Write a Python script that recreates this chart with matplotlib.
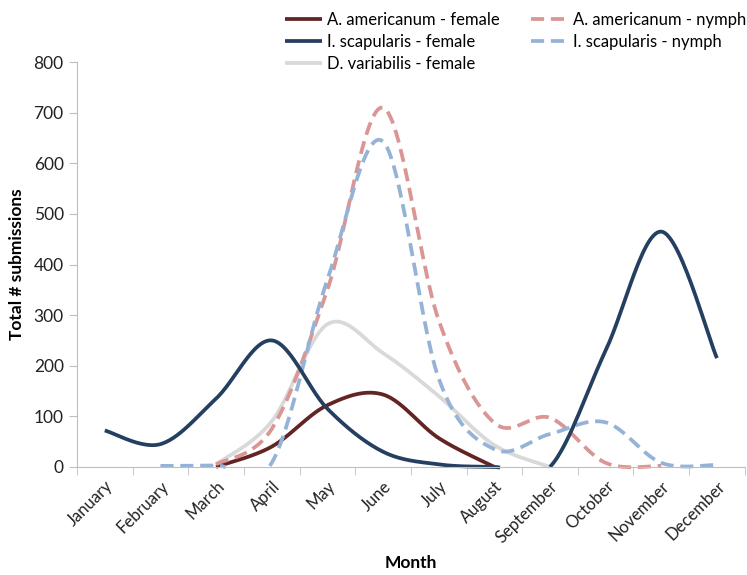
import matplotlib
matplotlib.use("Agg")
import matplotlib.pyplot as plt
import numpy as np

months = ["January", "February", "March", "April", "May", "June", "July",
          "August", "September", "October", "November", "December"]

# monthly totals (None = no point)
am_female = [None, None, 0, 40, 122, 143, 57, 0, None, None, None, None]
am_nymph = [None, None, 5, 75, 350, 710, 290, 87, 97, 8, 2, None]
is_female = [72, 45, 135, 250, 115, 30, 5, 0, 0, 230, 465, 215]
is_nymph = [None, 2, 3, 8, 370, 643, 175, 35, 65, 88, 8, 4]
dv_female = [None, None, 5, 90, 282, 225, 140, 43, 0, None, None, None]


def smooth(vals, n=30):
    # excel-style smoothed line (bezier through points), split on gaps
    runs, cur = [], []
    for i, v in enumerate(vals):
        if v is None:
            if cur:
                runs.append(cur)
            cur = []
        else:
            cur.append((i + 1, v))
    if cur:
        runs.append(cur)
    xs, ys = [], []
    for r in runs:
        p = np.array(r, dtype=float)
        for k in range(len(p) - 1):
            p0 = p[k - 1] if k > 0 else p[k]
            p1, p2 = p[k], p[k + 1]
            p3 = p[k + 2] if k + 2 < len(p) else p[k + 1]
            c1 = p1 + (p2 - p0) / 6
            c2 = p2 - (p3 - p1) / 6
            t = np.linspace(0, 1, n)[:, None]
            b = ((1 - t) ** 3) * p1 + 3 * ((1 - t) ** 2) * t * c1 + 3 * (1 - t) * t ** 2 * c2 + t ** 3 * p2
            xs.extend(b[:, 0]); ys.extend(b[:, 1])
        xs.append(np.nan); ys.append(np.nan)
    ys = np.array(ys)
    ys[ys < -1.5] = np.nan
    return np.array(xs), ys


plt.rcParams['font.family'] = ['Lato', 'DejaVu Sans']

fig = plt.figure(figsize=(7.47, 5.75), dpi=100)
ax = fig.add_axes([0.103, 0.188, 0.894, 0.704])

series = [
    ("A. americanum - female", am_female, "#632523", "-"),
    ("A. americanum - nymph", am_nymph, "#D99694", "--"),
    ("I. scapularis - female", is_female, "#243F60", "-"),
    ("I. scapularis - nymph", is_nymph, "#95B3D7", "--"),
    ("D. variabilis - female", dv_female, "#D9D9D9", "-"),
]
draw_order = [4, 0, 1, 3, 2]
handles = {}
for i in draw_order:
    name, vals, col, ls = series[i]
    x, y = smooth(vals)
    ln, = ax.plot(x, y, color=col, lw=2.7, ls=ls, clip_on=False,
                  solid_capstyle="butt", dash_capstyle="butt", label=name)
    if ls == "--":
        ln.set_dashes((3.5, 1.8))
    handles[name] = ln

ax.set_xlim(0.5, 12.5)
ax.set_ylim(0, 800)
ax.set_yticks(range(0, 801, 100))
ax.set_xticks(range(1, 13))
ax.set_xticklabels(months, rotation=45, ha="right", rotation_mode="anchor")
ax.set_xticks(np.arange(0.5, 12.6, 1), minor=True)
ax.tick_params(axis="x", which="major", length=0, labelsize=12, pad=8)
ax.tick_params(axis="x", which="minor", length=6, color="#BFBFBF")
ax.tick_params(axis="y", length=6, color="#BFBFBF", labelsize=12.5, colors="#222222")
ax.tick_params(axis="x", colors="#222222")
for s in ["top", "right"]:
    ax.spines[s].set_visible(False)
for s in ["left", "bottom"]:
    ax.spines[s].set_color("#BFBFBF")
ax.set_xlabel("Month", fontsize=12.5, fontweight="bold", labelpad=7)
ax.set_ylabel("Total # submissions", fontsize=12.5, fontweight="bold", labelpad=6)

order = ["A. americanum - female", "I. scapularis - female", "D. variabilis - female",
         "A. americanum - nymph", "I. scapularis - nymph"]
leg = fig.legend([handles[n] for n in order], order, ncol=2, loc="upper left",
                 bbox_to_anchor=(0.362, 1.005), frameon=False, fontsize=12,
                 handlelength=2.2, handletextpad=0.3, columnspacing=1.9,
                 labelspacing=0.35)

fig.savefig("out.png", dpi=100)
